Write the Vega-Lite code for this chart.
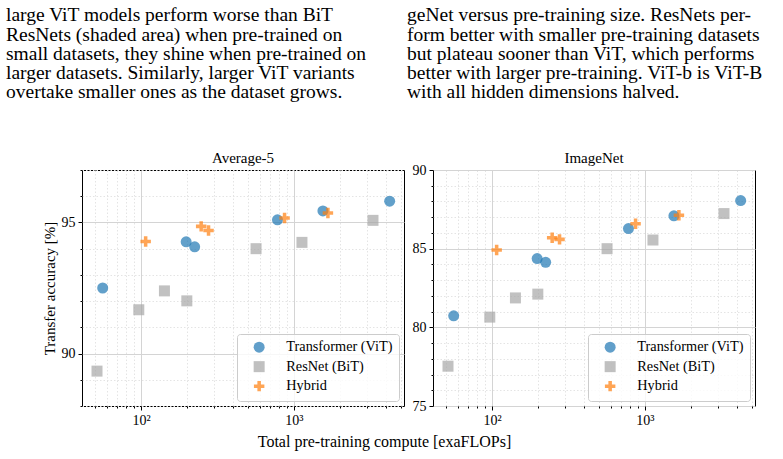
{
  "$schema": "https://vega.github.io/schema/vega-lite/v6.json",
  "padding": {"left": 6, "top": 5, "right": 4, "bottom": 4},
  "config": {
    "font": "Liberation Serif",
    "view": {"stroke": "black", "strokeWidth": 1},
    "title": {"font": "Liberation Serif", "fontWeight": "normal", "color": "black"},
    "axis": {
      "labelFont": "Liberation Serif", "labelFontSize": 14, "labelColor": "black",
      "titleFont": "Liberation Serif", "titleFontWeight": "normal", "titleColor": "black",
      "domain": false, "tickColor": "black", "labelFlush": false, "labelOverlap": false
    },
    "legend": {
      "title": null, "orient": "bottom-right", "offset": 5,
      "fillColor": "rgba(255,255,255,0.8)", "strokeColor": "#cccccc", "cornerRadius": 3,
      "padding": 6, "labelFont": "Liberation Serif", "labelFontSize": 14.3, "labelColor": "black",
      "symbolSize": 121, "rowPadding": 1.5, "labelOffset": 20, "symbolOffset": 9, "symbolOpacity": 0.7
    }
  },
  "title": {
    "text": "Total pre-training compute [exaFLOPs]",
    "orient": "bottom", "anchor": "middle", "fontSize": 16, "offset": 6
  },
  "resolve": {"scale": {"x": "independent", "y": "independent", "color": "independent", "shape": "independent"}},
  "spacing": 2,
  "datasets": {
    "avg5": [
      {"model": "Transformer (ViT)", "compute": 56, "acc": 92.5},
      {"model": "Transformer (ViT)", "compute": 197, "acc": 94.26},
      {"model": "Transformer (ViT)", "compute": 224, "acc": 94.07},
      {"model": "Transformer (ViT)", "compute": 780, "acc": 95.1},
      {"model": "Transformer (ViT)", "compute": 1547, "acc": 95.44},
      {"model": "Transformer (ViT)", "compute": 4230, "acc": 95.81},
      {"model": "ResNet (BiT)", "compute": 51.4, "acc": 89.33},
      {"model": "ResNet (BiT)", "compute": 96.5, "acc": 91.67},
      {"model": "ResNet (BiT)", "compute": 142, "acc": 92.39},
      {"model": "ResNet (BiT)", "compute": 199, "acc": 92.01},
      {"model": "ResNet (BiT)", "compute": 565, "acc": 94.0},
      {"model": "ResNet (BiT)", "compute": 1128, "acc": 94.24},
      {"model": "ResNet (BiT)", "compute": 3290, "acc": 95.08},
      {"model": "Hybrid", "compute": 107, "acc": 94.27},
      {"model": "Hybrid", "compute": 247, "acc": 94.85},
      {"model": "Hybrid", "compute": 276, "acc": 94.69},
      {"model": "Hybrid", "compute": 868, "acc": 95.17},
      {"model": "Hybrid", "compute": 1668, "acc": 95.36}
    ],
    "imnet": [
      {"model": "Transformer (ViT)", "compute": 56, "acc": 80.73},
      {"model": "Transformer (ViT)", "compute": 197, "acc": 84.37},
      {"model": "Transformer (ViT)", "compute": 224, "acc": 84.13},
      {"model": "Transformer (ViT)", "compute": 780, "acc": 86.28},
      {"model": "Transformer (ViT)", "compute": 1547, "acc": 87.09},
      {"model": "Transformer (ViT)", "compute": 4230, "acc": 88.06},
      {"model": "ResNet (BiT)", "compute": 51.4, "acc": 77.53},
      {"model": "ResNet (BiT)", "compute": 96.5, "acc": 80.65},
      {"model": "ResNet (BiT)", "compute": 142, "acc": 81.87},
      {"model": "ResNet (BiT)", "compute": 199, "acc": 82.11},
      {"model": "ResNet (BiT)", "compute": 565, "acc": 85.0},
      {"model": "ResNet (BiT)", "compute": 1128, "acc": 85.55},
      {"model": "ResNet (BiT)", "compute": 3290, "acc": 87.23},
      {"model": "Hybrid", "compute": 107, "acc": 84.91},
      {"model": "Hybrid", "compute": 247, "acc": 85.7},
      {"model": "Hybrid", "compute": 276, "acc": 85.59},
      {"model": "Hybrid", "compute": 868, "acc": 86.58},
      {"model": "Hybrid", "compute": 1668, "acc": 87.13}
    ]
  },
  "hconcat": [
    {
      "title": {
        "text": [
          "large ViT models perform worse than BiT",
          "ResNets (shaded area) when pre-trained on",
          "small datasets, they shine when pre-trained on",
          "larger datasets.  Similarly, larger ViT variants",
          "overtake smaller ones as the dataset grows."
        ],
        "anchor": "start", "frame": "group", "fontSize": 19.5, "lineHeight": 19.3,
        "offset": 47.5, "dx": -76
      },
      "resolve": {"scale": {"color": "independent", "shape": "independent"}},
      "vconcat": [
        {
          "width": 322, "height": 236,
          "title": {"text": "Average-5", "fontSize": 15, "offset": -3},
          "data": {"name": "avg5"},
          "mark": {"type": "point", "filled": true, "opacity": 0.7, "size": 121},
          "encoding": {
            "x": {
              "field": "compute", "type": "quantitative",
              "scale": {"type": "log", "domain": [41, 5250], "nice": false},
              "axis": {
                "title": null,
                "values": [50, 60, 70, 80, 90, 100, 200, 300, 400, 500, 600, 700, 800, 900, 1000, 2000, 3000, 4000, 5000],
                "labelExpr": "datum.value == 100 ? '10²' : datum.value == 1000 ? '10³' : ''",
                "labelPadding": 3,
                "grid": true,
                "gridColor": {"condition": {"test": "datum.value == 100 || datum.value == 1000", "value": "#d4d4d4"}, "value": "#e4e4e4"},
                "gridDash": {"condition": {"test": "datum.value == 100 || datum.value == 1000", "value": []}, "value": [1.5, 2]},
                "tickSize": {"condition": {"test": "datum.value == 100 || datum.value == 1000", "value": 4}, "value": 2}
              }
            },
            "y": {
              "field": "acc", "type": "quantitative",
              "scale": {"domain": [88, 97], "nice": false, "zero": false},
              "axis": {
                "title": "Transfer accuracy [%]", "titleFontSize": 15, "titlePadding": 4,
                "values": [88, 89, 90, 91, 92, 93, 94, 95, 96, 97],
                "labelExpr": "datum.value % 5 == 0 ? datum.label : ''",
                "labelPadding": 3,
                "grid": true,
                "gridColor": {"condition": {"test": "datum.value % 5 == 0", "value": "#d4d4d4"}, "value": "#e4e4e4"},
                "gridDash": {"condition": {"test": "datum.value % 5 == 0", "value": []}, "value": [1.5, 2]},
                "tickSize": {"condition": {"test": "datum.value % 5 == 0", "value": 4}, "value": 2}
              }
            },
            "color": {
              "field": "model", "type": "nominal",
              "scale": {"domain": ["Transformer (ViT)", "ResNet (BiT)", "Hybrid"], "range": ["#1f77b4", "#a6a6a6", "#ff7f0e"]}
            },
            "shape": {
              "field": "model", "type": "nominal",
              "scale": {"domain": ["Transformer (ViT)", "ResNet (BiT)", "Hybrid"], "range": ["circle", "square", "M-0.32,-0.95H0.32V-0.32H0.95V0.32H0.32V0.95H-0.32V0.32H-0.95V-0.32H-0.32Z"]}
            }
          }
        }
      ]
    },
    {
      "title": {
        "text": [
          "geNet versus pre-training size.  ResNets per-",
          "form better with smaller pre-training datasets",
          "but plateau sooner than ViT, which performs",
          "better with larger pre-training. ViT-b is ViT-B",
          "with all hidden dimensions halved."
        ],
        "anchor": "start", "frame": "group", "fontSize": 19.5, "lineHeight": 19.3,
        "offset": 47.5, "dx": -26
      },
      "resolve": {"scale": {"color": "independent", "shape": "independent"}},
      "vconcat": [
        {
          "width": 322, "height": 236,
          "title": {"text": "ImageNet", "fontSize": 15, "offset": -3},
          "data": {"name": "imnet"},
          "mark": {"type": "point", "filled": true, "opacity": 0.7, "size": 121},
          "encoding": {
            "x": {
              "field": "compute", "type": "quantitative",
              "scale": {"type": "log", "domain": [41, 5250], "nice": false},
              "axis": {
                "title": null,
                "values": [50, 60, 70, 80, 90, 100, 200, 300, 400, 500, 600, 700, 800, 900, 1000, 2000, 3000, 4000, 5000],
                "labelExpr": "datum.value == 100 ? '10²' : datum.value == 1000 ? '10³' : ''",
                "labelPadding": 3,
                "grid": true,
                "gridColor": {"condition": {"test": "datum.value == 100 || datum.value == 1000", "value": "#d4d4d4"}, "value": "#e4e4e4"},
                "gridDash": {"condition": {"test": "datum.value == 100 || datum.value == 1000", "value": []}, "value": [1.5, 2]},
                "tickSize": {"condition": {"test": "datum.value == 100 || datum.value == 1000", "value": 4}, "value": 2}
              }
            },
            "y": {
              "field": "acc", "type": "quantitative",
              "scale": {"domain": [75, 90], "nice": false, "zero": false},
              "axis": {
                "title": null,
                "values": [75, 76, 77, 78, 79, 80, 81, 82, 83, 84, 85, 86, 87, 88, 89, 90],
                "labelExpr": "datum.value % 5 == 0 ? datum.label : ''",
                "labelPadding": 3,
                "grid": true,
                "gridColor": {"condition": {"test": "datum.value % 5 == 0", "value": "#d4d4d4"}, "value": "#e4e4e4"},
                "gridDash": {"condition": {"test": "datum.value % 5 == 0", "value": []}, "value": [1.5, 2]},
                "tickSize": {"condition": {"test": "datum.value % 5 == 0", "value": 4}, "value": 2}
              }
            },
            "color": {
              "field": "model", "type": "nominal",
              "scale": {"domain": ["Transformer (ViT)", "ResNet (BiT)", "Hybrid"], "range": ["#1f77b4", "#a6a6a6", "#ff7f0e"]}
            },
            "shape": {
              "field": "model", "type": "nominal",
              "scale": {"domain": ["Transformer (ViT)", "ResNet (BiT)", "Hybrid"], "range": ["circle", "square", "M-0.32,-0.95H0.32V-0.32H0.95V0.32H0.32V0.95H-0.32V0.32H-0.95V-0.32H-0.32Z"]}
            }
          }
        }
      ]
    }
  ]
}
